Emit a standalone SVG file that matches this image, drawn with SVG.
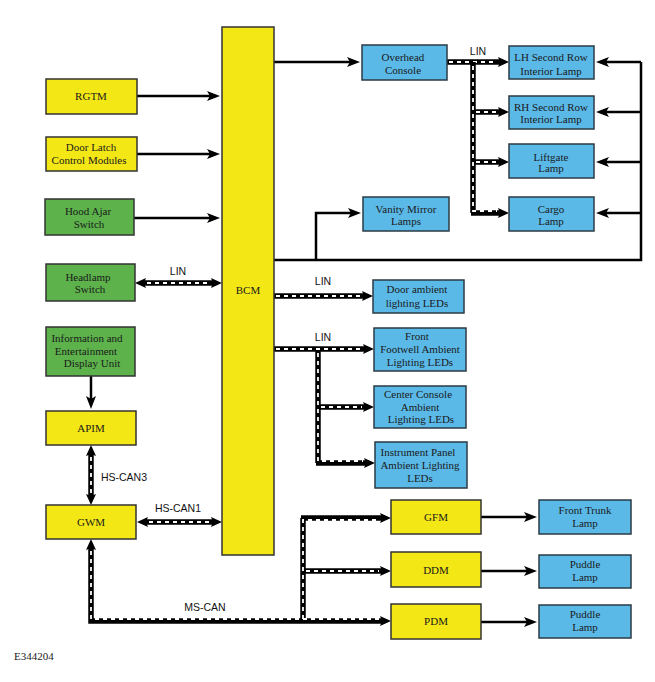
<svg xmlns="http://www.w3.org/2000/svg" width="655" height="682" viewBox="0 0 655 682">
<style>
.y{fill:#f3e716;stroke:#333;stroke-width:1.5}
.g{fill:#5db24c;stroke:#333;stroke-width:1.5}
.b{fill:#5bb9e8;stroke:#2b3b44;stroke-width:1.5}
.t{font-family:"Liberation Serif","Times New Roman",serif;font-size:11px;fill:#1a1a1a;text-anchor:middle}
.s{font-family:"Liberation Sans",Arial,sans-serif;font-size:10.5px;fill:#111;text-anchor:middle}
.w{fill:none;stroke:#000;stroke-width:2.5}
.wa{fill:none;stroke:#000;stroke-width:2.5;marker-end:url(#a)}
.bus{fill:none;stroke:#000;stroke-width:5.5}
.be{marker-end:url(#ba)}
.bb{marker-start:url(#ba);marker-end:url(#ba)}
.d{fill:none;stroke:#fff;stroke-width:1.8;stroke-dasharray:4 4}
</style>
<defs>
<marker id="a" markerUnits="userSpaceOnUse" viewBox="0 0 13 10" refX="3" refY="5" markerWidth="13" markerHeight="10" orient="auto-start-reverse">
<path d="M0,0 L13,5 L0,10 L3,5 z" fill="#000"/>
</marker>
<marker id="ba" markerUnits="userSpaceOnUse" viewBox="0 0 11 10" refX="2" refY="5" markerWidth="11" markerHeight="10" orient="auto-start-reverse">
<path d="M0,0 L11,5 L0,10 L2,5 z" fill="#000"/>
</marker>
</defs>
<rect width="655" height="682" fill="#fff"/>

<g id="connectors">
<path class="wa" d="M137,96 H210"/>
<path class="wa" d="M137,154 H210"/>
<path class="wa" d="M134,218 H210"/>
<path class="wa" d="M91,376 V399"/>
<path class="wa" d="M274,62 H350"/>
<path class="w" d="M274,260 H641 V62"/>
<path class="wa" d="M641,62 H606"/>
<path class="wa" d="M641,112 H606"/>
<path class="wa" d="M641,162 H606"/>
<path class="wa" d="M641,213 H606"/>
<path class="wa" d="M316,260 V213 H351"/>
<path class="wa" d="M481,517 H527"/>
<path class="wa" d="M481,571 H527"/>
<path class="wa" d="M481,622 H527"/>
<path class="bus bb" d="M144,283 H213"/>
<path class="d" d="M147,283 H210"/>
<path class="bus bb" d="M91,454 V496"/>
<path class="d" d="M91,457 V493"/>
<path class="bus bb" d="M146,522 H213"/>
<path class="d" d="M149,522 H210"/>
<path class="bus be" d="M447,62 H500"/>
<path class="d" d="M449,62 H497"/>
<path class="bus" d="M473,62 V213"/>
<path class="bus be" d="M473,112 H500"/>
<path class="bus be" d="M473,162 H500"/>
<path class="bus be" d="M471,213 H500"/>
<path class="d" d="M473,66 V211 H497 M476,112 H497 M476,162 H497"/>
<path class="bus be" d="M274,296 H364"/>
<path class="d" d="M276,296 H361"/>
<path class="bus be" d="M274,349 H365"/>
<path class="bus" d="M318,349 V463"/>
<path class="bus be" d="M318,407 H365"/>
<path class="bus be" d="M316,463 H366"/>
<path class="d" d="M276,349 H362 M318,353 V461 H363 M321,407 H362"/>
<path class="bus bb" d="M91,548 V621 H382"/>
<path class="bus" d="M303,621 V518"/>
<path class="bus be" d="M301,518 H382"/>
<path class="bus be" d="M303,571 H382"/>
<path class="d" d="M91,551 V619 H379 M303,619 V520 H379 M306,571 H379"/>
</g>

<g id="bcm"><rect class="y" x="222" y="27" width="52" height="528"/><text class="t" x="248" y="294">BCM</text></g>
<g id="rgtm"><rect class="y" x="46" y="79" width="91" height="35"/><text class="t" x="91" y="100">RGTM</text></g>
<g id="doorlatch"><rect class="y" x="46" y="137" width="91" height="34"/><text class="t" x="91" y="151">Door Latch</text><text class="t" x="89" y="164">Control Modules</text></g>
<g id="hoodajar"><rect class="g" x="45" y="199" width="89" height="36"/><text class="t" x="88" y="215">Hood Ajar</text><text class="t" x="89" y="228">Switch</text></g>
<g id="headlamp"><rect class="g" x="46" y="264" width="89" height="37"/><text class="t" x="88" y="281">Headlamp</text><text class="t" x="90" y="293">Switch</text></g>
<g id="infodisplay"><rect class="g" x="46" y="327" width="89" height="49"/><text class="t" x="87" y="342">Information and</text><text class="t" x="86" y="355">Entertainment</text><text class="t" x="92" y="367">Display Unit</text></g>
<g id="apim"><rect class="y" x="46" y="411" width="90" height="34"/><text class="t" x="91" y="432">APIM</text></g>
<g id="gwm"><rect class="y" x="46" y="505" width="90" height="34"/><text class="t" x="91" y="526">GWM</text></g>

<g id="overhead"><rect class="b" x="362" y="45" width="85" height="35"/><text class="t" x="403" y="61">Overhead</text><text class="t" x="403" y="74">Console</text></g>
<g id="lhlamp"><rect class="b" x="509" y="46" width="85" height="33"/><text class="t" x="551" y="61">LH Second Row</text><text class="t" x="551" y="75">Interior Lamp</text></g>
<g id="rhlamp"><rect class="b" x="509" y="96" width="85" height="33"/><text class="t" x="551" y="111">RH Second Row</text><text class="t" x="551" y="123">Interior Lamp</text></g>
<g id="liftgate"><rect class="b" x="509" y="144" width="85" height="34"/><text class="t" x="551" y="161">Liftgate</text><text class="t" x="551" y="172">Lamp</text></g>
<g id="cargo"><rect class="b" x="509" y="197" width="85" height="34"/><text class="t" x="551" y="213">Cargo</text><text class="t" x="551" y="225">Lamp</text></g>
<g id="vanity"><rect class="b" x="363" y="197" width="86" height="34"/><text class="t" x="406" y="213">Vanity Mirror</text><text class="t" x="406" y="225">Lamps</text></g>

<g id="doorambient"><rect class="b" x="373" y="280" width="91" height="33"/><text class="t" x="417" y="293">Door ambient</text><text class="t" x="417" y="307">lighting LEDs</text></g>
<g id="footwell"><rect class="b" x="374" y="328" width="92" height="43"/><text class="t" x="417" y="340">Front</text><text class="t" x="420" y="353">Footwell Ambient</text><text class="t" x="420" y="366">Lighting LEDs</text></g>
<g id="centerconsole"><rect class="b" x="374" y="386" width="92" height="42"/><text class="t" x="418" y="398">Center Console</text><text class="t" x="420" y="411">Ambient</text><text class="t" x="421" y="423">Lighting LEDs</text></g>
<g id="instrpanel"><rect class="b" x="375" y="442" width="92" height="46"/><text class="t" x="418" y="456">Instrument Panel</text><text class="t" x="420" y="469">Ambient Lighting</text><text class="t" x="420" y="482">LEDs</text></g>

<g id="gfm"><rect class="y" x="391" y="500" width="90" height="34"/><text class="t" x="436" y="521">GFM</text></g>
<g id="ddm"><rect class="y" x="391" y="552" width="90" height="35"/><text class="t" x="436" y="574">DDM</text></g>
<g id="pdm"><rect class="y" x="391" y="604" width="90" height="35"/><text class="t" x="436" y="625">PDM</text></g>
<g id="fronttrunk"><rect class="b" x="539" y="500" width="92" height="34"/><text class="t" x="585" y="514">Front Trunk</text><text class="t" x="585" y="527">Lamp</text></g>
<g id="puddleddm"><rect class="b" x="539" y="555" width="92" height="33"/><text class="t" x="585" y="568">Puddle</text><text class="t" x="585" y="581">Lamp</text></g>
<g id="puddlepdm"><rect class="b" x="539" y="605" width="92" height="33"/><text class="t" x="585" y="618">Puddle</text><text class="t" x="585" y="631">Lamp</text></g>

<g id="labels">
<text class="s" x="478" y="55">LIN</text>
<text class="s" x="178" y="275">LIN</text>
<text class="s" x="323" y="285">LIN</text>
<text class="s" x="323" y="341">LIN</text>
<text class="s" x="124" y="481">HS-CAN3</text>
<text class="s" x="178" y="512">HS-CAN1</text>
<text class="s" x="205" y="611">MS-CAN</text>
<text x="14" y="660" style="font-family:'Liberation Serif','Times New Roman',serif;font-size:11px;fill:#222">E344204</text>
</g>
</svg>
